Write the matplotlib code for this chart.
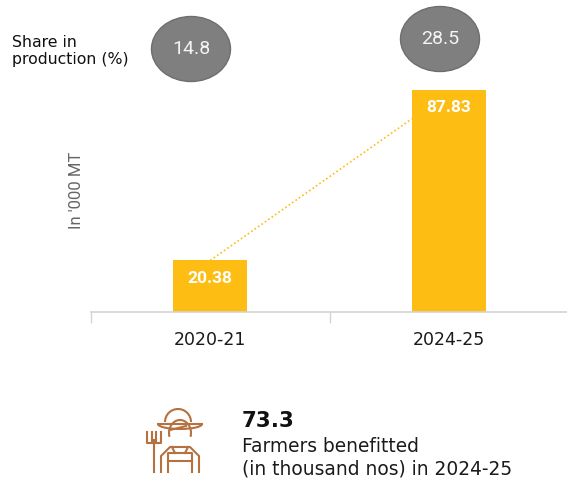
import matplotlib
matplotlib.use("Agg")
import matplotlib.pyplot as plt
from matplotlib.patches import Ellipse, Arc
import numpy as np

# ---- data ----
categories = ["2020-21", "2024-25"]
production = [20.38, 87.83]          # In '000 MT
share_pct = [14.8, 28.5]             # Share in production (%)
farmers_thousand = 73.3
ylabel = "In '000 MT"
share_label = "Share in\nproduction (%)"
farmers_label = "Farmers benefitted\n(in thousand nos) in 2024-25"

BAR = "#FDBD13"
GREY = "#7F7F7F"
BROWN = "#B5713F"
FONT = ["DejaVu Sans"]
RFONT = ["Roboto", "DejaVu Sans"]

W, H = 567, 480
fig = plt.figure(figsize=(W / 100, H / 100), dpi=100)
fig.patch.set_facecolor("white")

# main axes in pixel geometry
left_px, right_px, base_px, top_px = 91, 568, 312, 30
ax = fig.add_axes([left_px / W, (H - base_px) / H,
                   (right_px - left_px) / W, (base_px - top_px) / H])
x = np.arange(len(categories))
bw = 0.31
ax.bar(x, production, width=bw, color=BAR, zorder=2)
ax.set_xlim(-0.5, len(categories) - 0.5)
ax.set_ylim(0, (base_px - top_px) / 2.53)

for s in ["top", "right", "left"]:
    ax.spines[s].set_visible(False)
ax.spines["bottom"].set_color("#D3D3D3")
ax.spines["bottom"].set_linewidth(1.2)
ax.set_yticks([])
ax.set_xticks(np.arange(-0.5, len(categories) + 0.5, 1), minor=False)
ax.set_xticklabels([])
ax.tick_params(axis="x", which="major", length=8, color="#D3D3D3", width=1.0)
ax.set_xticks(x, minor=True)
ax.set_xticklabels(categories, minor=True, fontsize=12.5, family=FONT, color="#1a1a1a")
ax.tick_params(axis="x", which="minor", length=0, pad=14)

# value labels
for xi, v in zip(x, production):
    ax.text(xi, v - 7, f"{v:.2f}", ha="center", va="center", color="white",
            fontsize=12.5, fontweight="bold", family=RFONT, zorder=3)

# dotted trend line: from top of first bar to left edge of second bar near its label
ax.plot([x[0], x[1] - bw / 2], [production[0], production[1] - 11.5],
        linestyle=(0, (1, 1.5)), color=BAR, lw=1.2, zorder=1)

ax.text(-0.5 - 15 / 239, (base_px - 190) / 2.53, ylabel, rotation=90, ha="center", va="center",
        fontsize=12, color="#666666", family=RFONT, transform=ax.transData)

# overlay in pixel coordinates
ov = fig.add_axes([0, 0, 1, 1], zorder=5)
ov.set_xlim(0, W)
ov.set_ylim(H, 0)
ov.axis("off")
ov.patch.set_alpha(0)

ov.text(12, 51, share_label, ha="left", va="center", fontsize=11.3, family=FONT,
        color="#111111", linespacing=1.2)
ell_pos = [(191, 49), (440, 39)]
for (cx, cy), s in zip(ell_pos, share_pct):
    ov.add_patch(Ellipse((cx, cy), 79, 65, facecolor=GREY, edgecolor="#6E6E6E", lw=1, zorder=1))
    ov.text(cx, cy, f"{s}", ha="center", va="center", color="#F4F4F4", fontsize=14,
            family=RFONT, zorder=3)

# farmer stats
ov.text(242, 421, f"{farmers_thousand}", ha="left", va="center", fontsize=15.5,
        fontweight="bold", family=FONT, color="#111111")
ov.text(242, 458, farmers_label, ha="left", va="center", fontsize=13.4,
        family=FONT, color="#1a1a1a", linespacing=1.2)

# farmer icon (decorative)
lw = 1.5
# hat crown
ov.add_patch(Arc((178, 422), 26, 26, theta1=180, theta2=360, color=BROWN, lw=lw))
# brim
ov.add_patch(Arc((180, 424), 44, 10, theta1=0, theta2=180, color=BROWN, lw=lw))
ov.plot([158, 202], [424, 424], color=BROWN, lw=lw)
# head
ov.add_patch(Arc((180, 433), 22, 26, theta1=-200, theta2=20, color=BROWN, lw=lw))
ov.plot([170, 186], [430, 426], color=BROWN, lw=lw)
# body
ov.plot([161, 161, 170, 190, 199, 199], [472, 456, 447, 447, 456, 472], color=BROWN, lw=lw)
ov.plot([168, 168, 192, 192], [472, 453, 453, 472], color=BROWN, lw=lw)
ov.plot([168, 192], [461, 461], color=BROWN, lw=lw)
ov.plot([172, 175], [447, 453], color=BROWN, lw=lw)
ov.plot([188, 185], [447, 453], color=BROWN, lw=lw)
# pitchfork
ov.plot([154, 154], [440, 472], color=BROWN, lw=lw)
ov.plot([147, 147, 161, 161], [432, 443, 443, 432], color=BROWN, lw=lw)
ov.plot([152, 152], [432, 443], color=BROWN, lw=lw)
ov.plot([156, 156], [432, 443], color=BROWN, lw=lw)

fig.savefig("out.png", dpi=100, facecolor="white")
